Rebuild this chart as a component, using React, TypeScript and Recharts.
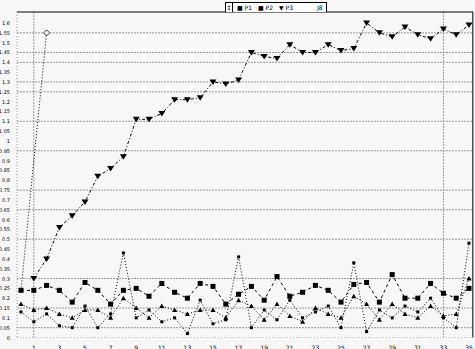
import React from 'react';
import { LineChart, Line, XAxis, YAxis, CartesianGrid, ReferenceLine } from 'recharts';

// values, one entry per point (index 0..35)
const p1 = [0.24, 0.24, 0.265, 0.24, 0.18, 0.28, 0.24, 0.17, 0.24, 0.25, 0.21, 0.275, 0.23, 0.2, 0.275, 0.26, 0.17, 0.22,
  0.26, 0.19, 0.31, 0.21, 0.23, 0.265, 0.24, 0.18, 0.27, 0.28, 0.18, 0.32, 0.2, 0.2, 0.275, 0.225, 0.2, 0.25];
const p2 = [0.17, 0.14, 0.15, 0.12, 0.1, 0.14, 0.14, 0.1, 0.2, 0.15, 0.1, 0.16, 0.14, 0.12, 0.14, 0.14, 0.1, 0.19,
  0.16, 0.09, 0.17, 0.11, 0.08, 0.15, 0.12, 0.1, 0.21, 0.17, 0.09, 0.17, 0.12, 0.1, 0.16, 0.11, 0.12, 0.3];
const p3 = [null, 0.3, 0.4, 0.56, 0.62, 0.69, 0.82, 0.86, 0.92, 1.11, 1.11, 1.14, 1.21, 1.21, 1.22, 1.3, 1.29, 1.31,
  1.45, 1.43, 1.42, 1.49, 1.45, 1.45, 1.49, 1.46, 1.47, 1.6, 1.55, 1.53, 1.58, 1.54, 1.52, 1.57, 1.54, 1.59];
const j8 = [0.13, 0.08, 0.12, 0.06, 0.05, 0.16, 0.05, 0.12, 0.43, 0.1, 0.14, 0.08, 0.1, 0.02, 0.19, 0.07, 0.09, 0.41,
  0.05, 0.14, 0.09, 0.19, 0.1, 0.13, 0.16, 0.05, 0.38, 0.03, 0.14, 0.1, 0.16, 0.13, 0.2, 0.1, 0.05, 0.48];
const ramp = [0.24, 0.9, 1.55];

const xTicks = [1, 3, 5, 7, 9, 11, 13, 15, 17, 19, 21, 23, 25, 27, 29, 31, 33, 35];
const xLabels = ['1', '3', '5', '7', '9', '11', '13', '15', '17', '19', '21', '23', '25', '27', '29', '31', '33', '35'];
const yTicks = [0, 0.05, 0.1, 0.15, 0.2, 0.25, 0.3, 0.35, 0.4, 0.45, 0.5, 0.55, 0.6, 0.65, 0.7, 0.75, 0.8,
  0.85, 0.9, 0.95, 1, 1.05, 1.1, 1.15, 1.2, 1.25, 1.3, 1.35, 1.4, 1.45, 1.5, 1.55, 1.6];
const gridValues = [0.05, 0.15, 0.3, 0.5, 0.65, 0.75, 0.95, 1.1, 1.25, 1.3, 1.4, 1.45, 1.55];

const data = p1.map((v, i) => ({
  i,
  p1: v,
  p2: p2[i],
  p3: p3[i],
  j8: j8[i],
  ramp: ramp[i] ?? null,
}));

const FONT = 'DejaVu Sans';
const Y_MAX = 1.656;

const Square = (props: any) => {
  const { cx, cy, index } = props;
  if (cx == null || cy == null) return <g key={index} />;
  return <rect key={index} x={cx - 2.5} y={cy - 2.5} width={5} height={5} fill="#000" />;
};

const TriDown = (props: any) => {
  const { cx, cy, index } = props;
  if (cx == null || cy == null) return <g key={index} />;
  return <path key={index} d={`M${cx - 3.5},${cy - 2.5}L${cx + 3.5},${cy - 2.5}L${cx},${cy + 3}Z`} fill="#000" />;
};

const TriUp = (props: any) => {
  const { cx, cy, index } = props;
  if (cx == null || cy == null) return <g key={index} />;
  return <path key={index} d={`M${cx - 2.5},${cy + 2}L${cx + 2.5},${cy + 2}L${cx},${cy - 2.5}Z`} fill="#000" />;
};

const Small = (props: any) => {
  const { cx, cy, index } = props;
  if (cx == null || cy == null) return <g key={index} />;
  return <rect key={index} x={cx - 1.5} y={cy - 1.5} width={3} height={3} fill="#000" />;
};

// only the last point of the short ramp carries a marker
const Diamond = (props: any) => {
  const { cx, cy, index } = props;
  if (cx == null || cy == null || index !== ramp.length - 1) return <g key={index} />;
  return (
    <path key={index} d={`M${cx},${cy - 3}L${cx + 3},${cy}L${cx},${cy + 3}L${cx - 3},${cy}Z`}
      fill="#fff" stroke="#000" strokeWidth={0.8} />
  );
};

const YTick = (props: any) => {
  const { x, y, payload } = props;
  return (
    <text x={x} y={y} dy={2} textAnchor="end" fontSize={5} fontFamily={FONT} fill="#000">
      {String(Number(Number(payload.value).toFixed(2)))}
    </text>
  );
};

const XTick = (props: any) => {
  const { x, y, payload } = props;
  return (
    <text x={x} y={y} dy={5} textAnchor="middle" fontSize={6} fontFamily={FONT} fill="#000">
      {xLabels[xTicks.indexOf(payload.value)] ?? ''}
    </text>
  );
};

const LegendBox = () => (
  <div style={{
    position: 'absolute', left: 225, top: 2, width: 102, height: 10, boxSizing: 'border-box',
    border: '1px solid #000', borderBottom: 'none', background: '#fff', display: 'flex', alignItems: 'center',
    fontFamily: FONT, fontSize: 6, lineHeight: '9px', color: '#000', whiteSpace: 'nowrap',
  }}>
    <span style={{ width: 6, textAlign: 'center', borderRight: '1px solid #000', height: '100%' }}>↕</span>
    <span style={{ marginLeft: 4 }}>■ P1</span>
    <span style={{ marginLeft: 6 }}>■ P2</span>
    <span style={{ marginLeft: 6 }}>▼ P3</span>
    <span style={{ marginLeft: 24 }}>J8</span>
  </div>
);

export default function App() {
  return (
    <div style={{ position: 'absolute', left: 0, top: 0, width: 475, height: 349, background: '#f7f7f7' }}>
      <LineChart width={475} height={349} data={data} margin={{ top: 12, right: 2, bottom: 0, left: 0 }}>
        <CartesianGrid
          horizontalValues={gridValues}
          verticalValues={[1, 33]}
          stroke="#9a9a9a"
          strokeDasharray="2 1"
        />
        <XAxis
          dataKey="i"
          type="number"
          domain={[0, 35]}
          ticks={xTicks}
          tick={<XTick />}
          padding={{ left: 4, right: 4 }}
          height={11.5}
          tickLine={false}
          tickMargin={1}
          axisLine={{ stroke: '#bbb', strokeDasharray: '1 2' }}
          interval={0}
        />
        <YAxis
          type="number"
          domain={[0, Y_MAX]}
          ticks={yTicks}
          interval={0}
          width={17}
          tickLine={false}
          tickMargin={1}
          tick={<YTick />}
          axisLine={{ stroke: '#999', strokeDasharray: '1 2' }}
        />
        <ReferenceLine y={Y_MAX} stroke="#000" strokeWidth={1} ifOverflow="visible" />
        <ReferenceLine x={35.3} stroke="#000" strokeWidth={1} ifOverflow="visible" />
        <Line dataKey="p3" stroke="#000" strokeWidth={1} strokeDasharray="3 2 1 2" dot={TriDown} isAnimationActive={false} />
        <Line dataKey="p1" stroke="#000" strokeWidth={1} strokeDasharray="3 3" dot={Square} isAnimationActive={false} />
        <Line dataKey="p2" stroke="#000" strokeWidth={1} strokeDasharray="1 2" dot={TriUp} isAnimationActive={false} />
        <Line dataKey="j8" stroke="#000" strokeWidth={1} strokeDasharray="1 2" dot={Small} isAnimationActive={false} />
        <Line dataKey="ramp" stroke="#000" strokeWidth={1} strokeDasharray="1 2" dot={Diamond} isAnimationActive={false} />
      </LineChart>
      <LegendBox />
    </div>
  );
}
